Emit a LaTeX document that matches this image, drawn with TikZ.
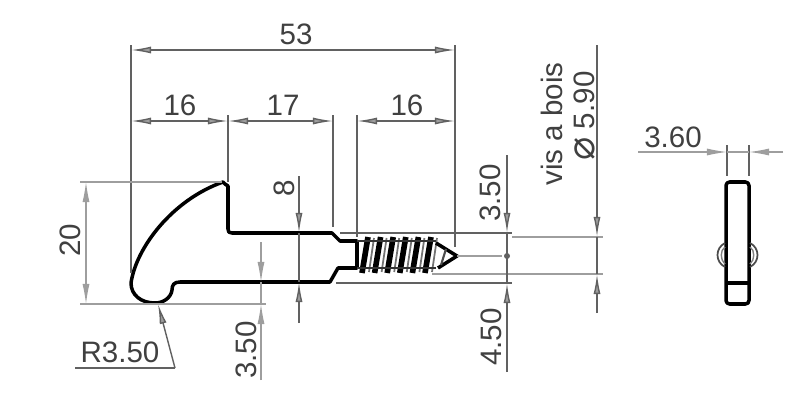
\documentclass[tikz,border=0pt]{standalone}
\usepackage{fontspec}
\setmainfont{Liberation Sans}
\newfontfamily\symfont{DejaVu Sans}
\usetikzlibrary{arrows.meta}
\definecolor{dimgrey}{gray}{0.38}
\definecolor{extgrey}{gray}{0.62}
\tikzset{
  part/.style={line width=1pt,line join=round,black},
  dimline/.style={line width=0.4pt,dimgrey},
  extline/.style={line width=0.3pt,extgrey},
  dimtip/.style={{Latex[length=0.2cm,width=0.07cm,fill=extgrey]}-{Latex[length=0.2cm,width=0.07cm,fill=extgrey]}},
  endtip/.style={-{Latex[length=0.2cm,width=0.07cm,fill=extgrey]}},
  dimtext/.style={font=\fontsize{8.4}{10}\selectfont,text=black!75,inner sep=0pt},
}
\begin{document}
\begin{tikzpicture}[x=0.01cm,y=-0.01cm]
\useasboundingbox (0,0) rectangle (800,403);
% the hook
  \draw[part] (223,182) -- (225,184) -- (228,186) -- (228,229)
     .. controls (228,232) and (229,233) .. (232,233)
     -- (332,233) -- (340,241) -- (357,241) -- (357,268) -- (338,268) -- (330,282)
     -- (180,282) .. controls (174,282) and (172,285) .. (172,290)
     .. controls (171,298) and (163,303) .. (155,303)
     .. controls (141,303) and (131,295) .. (131,283)
     .. controls (136,248) and (172,200) .. (223,182) -- cycle;
% the screw
  \foreach \tx in {0,...,5} {
    \draw[line width=0.5pt,black!55] (374+\tx*12.6,238) -- (369+\tx*12.6,272);
    \draw[line width=1.6pt,black] (368+\tx*12.6,237) -- (362+\tx*12.6,273);
  }
  \draw[line width=0.6pt,black!80] (357,241) -- (436,241);
  \draw[line width=0.6pt,black!80] (357,268) -- (436,268);
  \draw[line width=1pt,black] (436,243) -- (457,256) -- (438,268);
  \draw[line width=0.6pt,black!70] (446,249) -- (441,265);
% side view
  \draw[part,rounded corners=1pt] (726,182) rectangle (749,304);
  \draw[part] (726,283) -- (749,283);
  \draw[line width=0.5pt,black!70] (725,243) .. controls (715,248) and (715,262) .. (725,267);
  \draw[line width=0.4pt,black!50] (725,247) .. controls (720,250) and (720,260) .. (725,264);
  \draw[line width=0.5pt,black!70] (750,243) .. controls (760,248) and (760,262) .. (750,267);
  \draw[line width=0.4pt,black!50] (750,247) .. controls (755,250) and (755,260) .. (750,264);
% extension lines
  \draw[dimline] (131,45) -- (131,273);
  \draw[dimline] (455,45) -- (455,247);
  \draw[dimline] (228,115) -- (228,182);
  \draw[dimline] (333,115) -- (333,227);
  \draw[dimline] (357,115) -- (357,237);
  \draw[extline] (80,182) -- (222,182);
  \draw[extline] (80,304) -- (266,304);
  \draw[line width=0.8pt,dimgrey] (340,233) -- (512,233);
  \draw[line width=0.8pt,dimgrey] (336,283) -- (512,283);
  \draw[extline] (512,237) -- (603,237);
  \draw[extline] (432,274) -- (603,274);
  \draw[extline] (457,256) -- (502,256);
  \draw[dimline] (727,145) -- (727,176);
  \draw[dimline] (749,145) -- (749,176);
% dimensions
  \draw[dimline,dimtip] (131,50) -- (455,50);
  \draw[dimline,dimtip] (131,121) -- (228,121);
  \draw[dimline,dimtip] (228,121) -- (333,121);
  \draw[dimline,dimtip] (357,121) -- (455,121);
  \draw[extline,dimtip] (86,182) -- (86,304);
  \draw[dimline,endtip] (299,176) -- (299,233);
  \draw[dimline,endtip] (299,323) -- (299,282);
  \draw[dimline] (299,233) -- (299,282);
  \draw[extline,endtip] (261,242) -- (261,282);
  \draw[extline,endtip] (261,380) -- (261,304);
  \draw[extline] (261,282) -- (261,304);
  \draw[dimline,endtip] (507,155) -- (507,233);
  \draw[dimline,endtip] (507,372) -- (507,283);
  \draw[dimline] (507,233) -- (507,283);
  \fill[dimgrey] (507,256) circle (3);
  \draw[dimline,endtip] (597,45) -- (597,237);
  \draw[dimline,endtip] (597,313) -- (597,274);
  \draw[dimline] (597,237) -- (597,274);
  \draw[extline,endtip] (638,152) -- (727,152);
  \draw[extline,endtip] (783,152) -- (749,152);
  \draw[extline] (727,152) -- (749,152);
% radius leader
  \draw[dimline,endtip] (175,368) -- (158,304);
  \draw[dimline] (175,368) -- (75,368);
% labels
  \node[dimtext] (dimtotal) at (296,34) {53};
  \node[dimtext] (dimhead) at (180,105) {16};
  \node[dimtext] (dimneck) at (283,105) {17};
  \node[dimtext] (dimscrew) at (407,105) {16};
  \node[dimtext,rotate=90] (dimheight) at (70,240) {20};
  \node[dimtext,rotate=90] (dimbar) at (284,188) {8};
  \node[dimtext,rotate=90] (dimlower) at (246,350) {3.50};
  \node[dimtext,rotate=90] (dimupper) at (490,193) {3.50};
  \node[dimtext,rotate=90] (dimoffset) at (491,337) {4.50};
  \node[dimtext,rotate=90] (screwname) at (552,124) {vis a bois};
  \node[dimtext,rotate=90] (screwdia) at (585,116) {{\symfont\fontsize{11}{12}\selectfont ⌀} 5.90};
  \node[dimtext] (dimradius) at (120,352) {R3.50};
  \node[dimtext] (dimthick) at (673,137) {3.60};
\end{tikzpicture}
\end{document}
